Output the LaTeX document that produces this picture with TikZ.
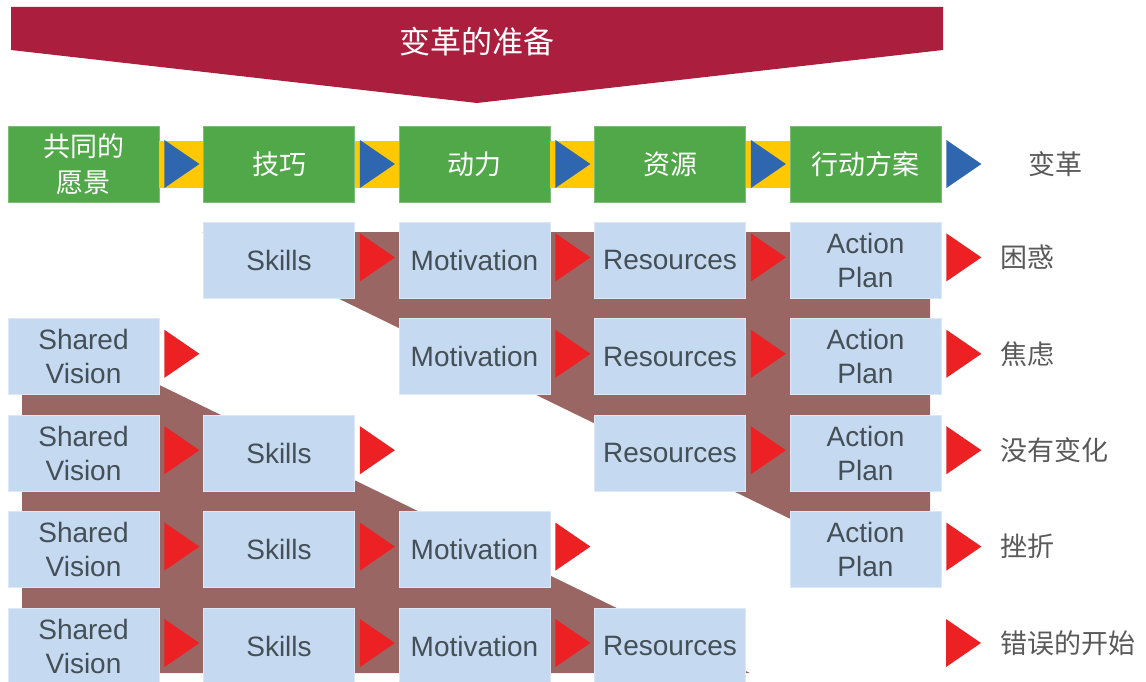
\documentclass[tikz,border=0pt]{standalone}
\usepackage{fontspec}
\setmainfont{Liberation Sans}
\newfontfamily\cjk{Noto Sans CJK SC}
\usetikzlibrary{calc}
\definecolor{bannerred}{RGB}{172,30,62}
\definecolor{boxgreen}{RGB}{80,168,72}
\definecolor{boxblue}{RGB}{197,217,241}
\definecolor{bandyellow}{RGB}{255,200,0}
\definecolor{triblue}{RGB}{46,102,176}
\definecolor{trired}{RGB}{237,32,36}
\definecolor{shadebrown}{RGB}{153,102,100}
\definecolor{txtdark}{RGB}{68,79,86}
\definecolor{txtgray}{RGB}{89,89,89}
\newcommand\redtri[1]{\fill[trired] ($(#1)+(5,-27)$) -- ($(#1)+(40,-3)$) -- ($(#1)+(5,21)$) -- cycle;}
\newcommand\bluetri[1]{\fill[triblue] ($(#1)+(5,-24)$) -- ($(#1)+(40,0)$) -- ($(#1)+(5,24)$) -- cycle;}
\tikzset{
  greenbox/.style={fill=boxgreen, draw=boxgreen!75!white, line width=0.8pt,
    minimum width=151pt, minimum height=76pt, inner sep=0pt, align=center,
    text=white, font=\cjk\fontsize{27}{36}\selectfont},
  bluebox/.style={fill=boxblue, draw=boxblue!60!white, line width=0.8pt,
    minimum width=151pt, minimum height=76pt, inner sep=0pt, align=center,
    text=txtdark, font=\fontsize{28}{34}\selectfont},
  sidelabel/.style={anchor=west, inner sep=0pt, text=txtgray, font=\cjk\fontsize{27}{32}\selectfont},
  bandfill/.style={fill=bandyellow},
  shadefill/.style={fill=shadebrown}
}
\begin{document}
\begin{tikzpicture}[x=1pt,y=-1pt]
\useasboundingbox (0,0) rectangle (1146,682);
% banner
\fill[bannerred] (11,7) -- (943,7) -- (943,50) -- (477,103) -- (11,50) -- cycle;
\node[text=white, font=\cjk\fontsize{31}{36}\selectfont] (title) at (477,42) {变革的准备};
% brown shading
\fill[shadefill] (202,232) -- (930,232) -- (930,587) -- cycle;
\fill[shadefill] (22,318) -- (22,673) -- (750,673) -- cycle;
% top row
\node[greenbox] (g1) at (83.5,164) {共同的\\愿景};
\node[greenbox] (g2) at (279,164) {技巧};
\node[greenbox] (g3) at (474.5,164) {动力};
\node[greenbox] (g4) at (670,164) {资源};
\node[greenbox] (g5) at (865.5,164) {行动方案};
\foreach \a/\b in {g1/g2,g2/g3,g3/g4,g4/g5}{
  \fill[bandfill] ($(\a.east)+(0,-23)$) rectangle ($(\b.west)+(0,24)$);
  \bluetri{\a.east}
}
\bluetri{g5.east}
\node[sidelabel] (l0) at (1028,164) {变革};
% row 1
\node[bluebox] (b12) at (279,260.4) {Skills};
\node[bluebox] (b13) at (474.5,260.4) {Motivation};
\node[bluebox] (b14) at (670,260.4) {Resources};
\node[bluebox] (b15) at (865.5,260.4) {Action\\Plan};
\redtri{b12.east}\redtri{b13.east}\redtri{b14.east}\redtri{b15.east}
\node[sidelabel] (l1) at (1000,257.4) {困惑};
% row 2
\node[bluebox] (b21) at (83.5,356.8) {Shared\\Vision};
\node[bluebox] (b23) at (474.5,356.8) {Motivation};
\node[bluebox] (b24) at (670,356.8) {Resources};
\node[bluebox] (b25) at (865.5,356.8) {Action\\Plan};
\redtri{b21.east}\redtri{b23.east}\redtri{b24.east}\redtri{b25.east}
\node[sidelabel] (l2) at (1000,353.8) {焦虑};
% row 3
\node[bluebox] (b31) at (83.5,453.2) {Shared\\Vision};
\node[bluebox] (b32) at (279,453.2) {Skills};
\node[bluebox] (b34) at (670,453.2) {Resources};
\node[bluebox] (b35) at (865.5,453.2) {Action\\Plan};
\redtri{b31.east}\redtri{b32.east}\redtri{b34.east}\redtri{b35.east}
\node[sidelabel] (l3) at (1000,450.2) {没有变化};
% row 4
\node[bluebox] (b41) at (83.5,549.6) {Shared\\Vision};
\node[bluebox] (b42) at (279,549.6) {Skills};
\node[bluebox] (b43) at (474.5,549.6) {Motivation};
\node[bluebox] (b45) at (865.5,549.6) {Action\\Plan};
\redtri{b41.east}\redtri{b42.east}\redtri{b43.east}\redtri{b45.east}
\node[sidelabel] (l4) at (1000,546.6) {挫折};
% row 5
\node[bluebox] (b51) at (83.5,646) {Shared\\Vision};
\node[bluebox] (b52) at (279,646) {Skills};
\node[bluebox] (b53) at (474.5,646) {Motivation};
\node[bluebox] (b54) at (670,646) {Resources};
\coordinate (c55) at (941,646);
\redtri{b51.east}\redtri{b52.east}\redtri{b53.east}\redtri{c55}
\node[sidelabel] (l5) at (1000,643) {错误的开始};
\end{tikzpicture}
\end{document}
